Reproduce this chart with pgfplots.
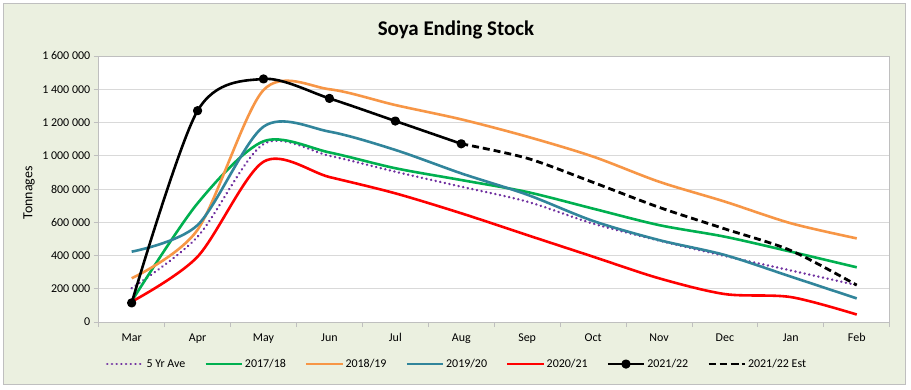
\documentclass[border=0pt]{standalone}
\usepackage{fontspec}
\setmainfont{Carlito}
\usepackage{pgfplots}
\pgfplotsset{compat=1.18}
\definecolor{bgc}{RGB}{235,240,224}
\definecolor{cgreen}{RGB}{0,176,80}
\definecolor{corange}{RGB}{247,150,70}
\definecolor{cblue}{RGB}{49,133,155}
\definecolor{cred}{RGB}{255,0,0}
\definecolor{cpurple}{RGB}{112,48,160}
\definecolor{gridc}{RGB}{217,217,217}
\definecolor{framec}{RGB}{191,191,191}
\begin{document}
\begin{tikzpicture}[x=1bp,y=1bp]
\fill[white] (0,0) rectangle (911,-389);
\filldraw[fill=bgc, draw=framec, line width=0.8bp] (3.5,-3.5) rectangle (905,-384);
\node[font=\bfseries\fontsize{21}{25}\selectfont, anchor=base] at (456,-35) {Soya Ending Stock};
\node[font=\fontsize{14}{16}\selectfont, rotate=90] at (29,-193) {Tonnages};
\begin{axis}[
  at={(98.7bp,-322bp)}, anchor=south west,
  scale only axis, width=791bp, height=266bp,
  xmin=-0.5, xmax=11.5, ymin=0, ymax=1600000,
  xtick={0,...,11},
  xticklabels={Mar,Apr,May,Jun,Jul,Aug,Sep,Oct,Nov,Dec,Jan,Feb},
  minor xtick={-0.5,0.5,...,11.5},
  x tick style={draw=none},
  minor x tick style={draw=framec, line width=0.8bp},
  minor tick length=5bp,
  ytick={0,200000,...,1600000},
  y tick style={draw=framec, line width=0.8bp},
  major tick length=5bp,
  tick align=outside,
  tick pos=left,
  ymajorgrids, grid style={draw=gridc, line width=0.8bp},
  axis line style={draw=framec, line width=0.8bp},
  axis background/.style={fill=white},
  scaled y ticks=false,
  /pgf/number format/assume math mode=true,
  yticklabel style={/pgf/number format/.cd, fixed, precision=0, 1000 sep={\ }},
  tick label style={font=\fontsize{12}{14}\selectfont, text=black},
  xticklabel style={yshift=-3bp},
  legend columns=7,
  legend style={draw=none, fill=none, font=\fontsize{12}{14}\selectfont,
    at={(0.4530,-0.158)}, anchor=center,
    /tikz/every even column/.append style={column sep=17bp},
    nodes={inner sep=2bp}},
  legend image code/.code={\draw[mark repeat=2,mark phase=2,#1] plot coordinates {(0bp,0bp) (18bp,0bp) (36bp,0bp)};},
  every axis plot/.append style={line width=2.6bp, line join=round},
  smooth,
]
% 5 Yr Ave
\addplot[cpurple, dash pattern=on 0.1bp off 4.6bp, line cap=round] coordinates {
 (0,203000) (1,513000) (2,1070000) (3,1000000) (4,904000) (5,814000)
 (6,724000) (7,592000) (8,490000) (9,397000) (10,310000) (11,222000)};
\addlegendentry{5 Yr Ave}
% 2017/18
\addplot[cgreen] coordinates {
 (0,125000) (1,714000) (2,1087000) (3,1020000) (4,925000) (5,854000)
 (6,782000) (7,682000) (8,583000) (9,513000) (10,423000) (11,329000)};
\addlegendentry{2017/18}
% 2018/19
\addplot[corange] coordinates {
 (0,263000) (1,555000) (2,1395000) (3,1400000) (4,1305000) (5,1219000)
 (6,1115000) (7,995000) (8,844000) (9,724000) (10,594000) (11,503000)};
\addlegendentry{2018/19}
% 2019/20
\addplot[cblue] coordinates {
 (0,423000) (1,583000) (2,1175000) (3,1145000) (4,1035000) (5,894000)
 (6,766000) (7,608000) (8,493000) (9,403000) (10,273000) (11,142000)};
\addlegendentry{2019/20}
% 2020/21
\addplot[cred] coordinates {
 (0,122000) (1,393000) (2,964000) (3,872000) (4,774000) (5,654000)
 (6,523000) (7,393000) (8,263000) (9,168000) (10,150000) (11,45000)};
\addlegendentry{2020/21}
% 2021/22
\addplot[black, mark=*, mark size=3.3bp, mark options={solid, fill=black}] coordinates {
 (0,115000) (1,1271000) (2,1462000) (3,1345000) (4,1209000) (5,1072000)};
\addlegendentry{2021/22}
% 2021/22 Est
\addplot[black, dash pattern=on 7bp off 4bp, line width=2.8bp] coordinates {
 (5,1072000) (6,985000) (7,840000) (8,690000) (9,560000) (10,430000) (11,222000)};
\addlegendentry{2021/22 Est}
\end{axis}
\end{tikzpicture}
\end{document}
